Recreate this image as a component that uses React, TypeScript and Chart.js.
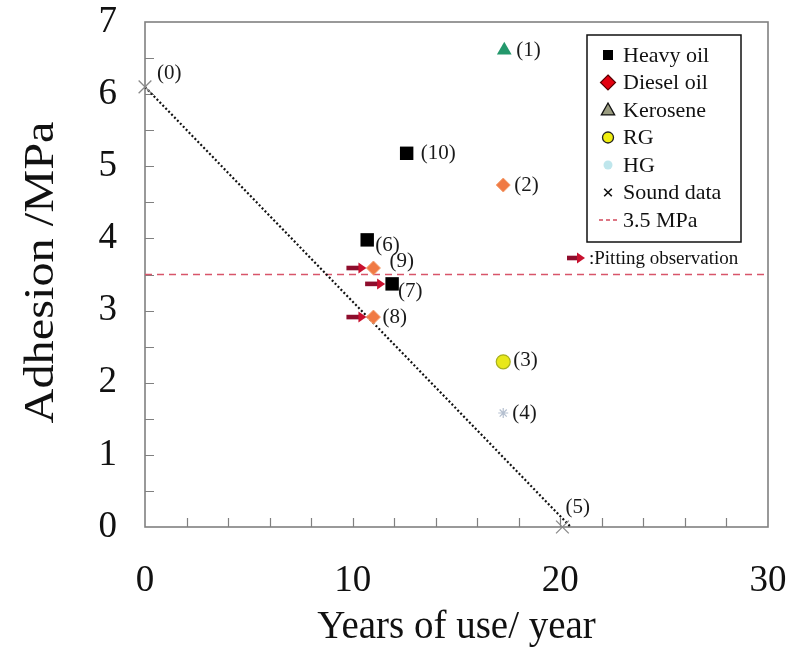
import React, { useEffect, useRef } from 'react';
import { Chart, registerables } from 'chart.js';

Chart.register(...registerables);

const FONT = "'Liberation Serif', 'Times New Roman', Times, serif";

// ---- data (years of use, adhesion MPa, point id) ----
const heavyYears = [10.7, 11.9, 12.6];
const heavyAdhesion = [3.98, 3.37, 5.18];
const heavyIds = [6, 7, 10];

const dieselYears = [17.25, 11.0, 11.0];
const dieselAdhesion = [4.74, 2.91, 3.59];
const dieselIds = [2, 8, 9];

const keroseneYears = [17.3];
const keroseneAdhesion = [6.61];
const keroseneIds = [1];

const rgYears = [17.25];
const rgAdhesion = [2.29];
const rgIds = [3];

const hgYears = [17.25];
const hgAdhesion = [1.58];
const hgIds = [4];

const soundYears = [0, 20.1];
const soundAdhesion = [6.1, 0];
const soundIds = [0, 5];

const trendYears = [0, 20.5];
const trendAdhesion = [6.1, 0];

const thresholdYears = [0, 30];
const thresholdAdhesion = [3.5, 3.5];

const pittingIds = [9, 7, 8];

const xTickLabels = [0, 10, 20, 30];
const yTickLabels = [0, 1, 2, 3, 4, 5, 6, 7];
const xTickMarks = [2, 4, 6, 8, 10, 12, 14, 16, 18, 20, 22, 24, 26, 28];
const yTickMarks = [0.5, 1, 1.5, 2, 2.5, 3, 3.5, 4, 4.5, 5, 5.5, 6, 6.5];

const legendNames = ['Heavy oil', 'Diesel oil', 'Kerosene', 'RG', 'HG', 'Sound data', '3.5 MPa'];
const pittingNote = ':Pitting observation';
const xTitle = 'Years of use/ year';
const yTitle = 'Adhesion /MPa';

// label placement offsets (px) relative to each point: [dx, dy]
const labelOffsets: Record<number, [number, number]> = {
  0: [12, -13], 1: [12, 0], 2: [11, 0], 3: [10, -1], 4: [9, 0], 5: [3, -20],
  6: [8, 6], 7: [6, 8], 8: [9, 0], 9: [16, -7], 10: [14, 0],
};

const pts = (xs: number[], ys: number[]) => xs.map((x, i) => ({ x, y: ys[i] }));

function drawShape(ctx: CanvasRenderingContext2D, shape: string, cx: number, cy: number, r: number,
  fill: string | null, stroke: string | null, lw = 1) {
  ctx.save();
  ctx.beginPath();
  if (shape === 'square') {
    ctx.rect(cx - r, cy - r, 2 * r, 2 * r);
  } else if (shape === 'diamond') {
    ctx.moveTo(cx, cy - r); ctx.lineTo(cx + r, cy); ctx.lineTo(cx, cy + r); ctx.lineTo(cx - r, cy); ctx.closePath();
  } else if (shape === 'triangle') {
    ctx.moveTo(cx, cy - r); ctx.lineTo(cx + r * 0.95, cy + r * 0.7); ctx.lineTo(cx - r * 0.95, cy + r * 0.7); ctx.closePath();
  } else if (shape === 'circle') {
    ctx.arc(cx, cy, r, 0, Math.PI * 2);
  } else if (shape === 'cross') {
    ctx.moveTo(cx - r, cy - r); ctx.lineTo(cx + r, cy + r); ctx.moveTo(cx + r, cy - r); ctx.lineTo(cx - r, cy + r);
  } else if (shape === 'dash') {
    ctx.setLineDash([4, 3]);
    ctx.moveTo(cx - r, cy); ctx.lineTo(cx + r, cy);
  }
  if (fill) { ctx.fillStyle = fill; ctx.fill(); }
  if (stroke) { ctx.strokeStyle = stroke; ctx.lineWidth = lw; ctx.stroke(); }
  ctx.restore();
}

function drawArrow(ctx: CanvasRenderingContext2D, tipX: number, y: number, len: number) {
  ctx.save();
  ctx.fillStyle = '#8e0d2c';
  ctx.fillRect(tipX - len, y - 2.3, len - 7, 4.6);
  ctx.fillStyle = '#c8102e';
  ctx.beginPath();
  ctx.moveTo(tipX, y);
  ctx.lineTo(tipX - 8, y - 5.5);
  ctx.lineTo(tipX - 8, y + 5.5);
  ctx.closePath();
  ctx.fill();
  ctx.restore();
}

const framePlugin = {
  id: 'frame',
  beforeDatasetsDraw(chart: any) {
    const { ctx, chartArea: a, scales } = chart;
    const x = scales.x, y = scales.y;
    ctx.save();
    ctx.strokeStyle = '#808080';
    ctx.lineWidth = 1.6;
    ctx.strokeRect(a.left, a.top, a.right - a.left, a.bottom - a.top);
    ctx.lineWidth = 1.2;
    ctx.beginPath();
    for (const v of xTickMarks) {
      const px = Math.round(x.getPixelForValue(v)) + 0.5;
      ctx.moveTo(px, a.bottom); ctx.lineTo(px, a.bottom - 9);
    }
    for (const v of yTickMarks) {
      const py = Math.round(y.getPixelForValue(v)) + 0.5;
      ctx.moveTo(a.left, py); ctx.lineTo(a.left + 9, py);
    }
    ctx.stroke();
    ctx.restore();
  },
};

const annotationPlugin = {
  id: 'annotations',
  afterDatasetsDraw(chart: any) {
    const { ctx } = chart;
    const pos: Record<number, { x: number; y: number }> = {};
    chart.data.datasets.forEach((ds: any, i: number) => {
      if (!ds.ids) return;
      const meta = chart.getDatasetMeta(i);
      ds.ids.forEach((id: number, j: number) => {
        const el = meta.data[j];
        pos[id] = { x: el.x, y: el.y };
      });
    });
    ctx.save();
    ctx.font = `21px ${FONT}`;
    ctx.fillStyle = '#1a1a1a';
    ctx.textBaseline = 'middle';
    ctx.textAlign = 'left';
    Object.keys(pos).forEach((k) => {
      const id = Number(k);
      const p = pos[id];
      const off = labelOffsets[id] || [10, 0];
      ctx.fillText(`(${id})`, p.x + off[0], p.y + off[1]);
    });
    ctx.restore();
    for (const id of pittingIds) {
      const p = pos[id];
      if (p) drawArrow(ctx, p.x - 7, p.y, 20);
    }
  },
  afterDraw(chart: any) {
    const { ctx, chartArea: a } = chart;
    // y axis title (slightly stretched along its length, as in the source)
    ctx.save();
    ctx.translate(42, (a.top + a.bottom) / 2 - 2);
    ctx.rotate(-Math.PI / 2);
    ctx.scale(1.15, 1);
    ctx.font = `42px ${FONT}`;
    ctx.fillStyle = '#111';
    ctx.textAlign = 'center';
    ctx.textBaseline = 'middle';
    ctx.fillText(yTitle, 0, 0);
    ctx.restore();

    // legend box
    const left = 587, top = 35, right = 741, bottom = 242;
    ctx.save();
    ctx.fillStyle = '#ffffff';
    ctx.fillRect(left, top, right - left, bottom - top);
    ctx.strokeStyle = '#111';
    ctx.lineWidth = 1.5;
    ctx.strokeRect(left, top, right - left, bottom - top);
    const markers: [string, number, string | null, string | null, number][] = [
      ['square', 5, '#000000', null, 1],
      ['diamond', 7.5, '#e3000f', '#5a0000', 1.2],
      ['triangle', 7, '#9a9c80', '#111', 1.3],
      ['circle', 5.5, '#f0ee10', '#222', 1.3],
      ['circle', 4.5, '#bfe6ec', null, 1],
      ['cross', 3.8, null, '#111', 1.6],
      ['dash', 9, null, '#d24a5c', 1.3],
    ];
    ctx.font = `22px ${FONT}`;
    ctx.fillStyle = '#111';
    ctx.textBaseline = 'middle';
    ctx.textAlign = 'left';
    legendNames.forEach((name, i) => {
      const cy = 55 + i * 27.5;
      const m = markers[i];
      drawShape(ctx, m[0], 608, cy, m[1], m[2], m[3], m[4]);
      ctx.fillStyle = '#111';
      ctx.fillText(name, 623, cy + 1);
    });
    // pitting note
    drawArrow(ctx, 585, 258, 18);
    ctx.font = `19px ${FONT}`;
    ctx.fillStyle = '#111';
    ctx.fillText(pittingNote, 589, 259);
    ctx.restore();
  },
};

export default function App() {
  const ref = useRef<HTMLCanvasElement | null>(null);
  useEffect(() => {
    if (!ref.current) return;
    const chart = new Chart(ref.current, {
      type: 'scatter',
      data: {
        datasets: [
          {
            label: legendNames[0], data: pts(heavyYears, heavyAdhesion), ids: heavyIds,
            pointStyle: 'rect', pointRadius: 9.5, backgroundColor: '#000000', borderColor: '#000000', borderWidth: 0,
          } as any,
          {
            label: legendNames[1], data: pts(dieselYears, dieselAdhesion), ids: dieselIds,
            pointStyle: 'rectRot', pointRadius: 7, backgroundColor: '#f07a44', borderColor: '#f4a070', borderWidth: 1,
          } as any,
          {
            label: legendNames[2], data: pts(keroseneYears, keroseneAdhesion), ids: keroseneIds,
            pointStyle: 'triangle', pointRadius: 8.5, backgroundColor: '#24986c', borderColor: '#24986c', borderWidth: 0,
          } as any,
          {
            label: legendNames[3], data: pts(rgYears, rgAdhesion), ids: rgIds,
            pointStyle: 'circle', pointRadius: 7, backgroundColor: '#e8e81a', borderColor: '#a8b020', borderWidth: 1.2,
          } as any,
          {
            label: legendNames[4], data: pts(hgYears, hgAdhesion), ids: hgIds,
            pointStyle: 'star', pointRadius: 5, backgroundColor: '#c4ccd8', borderColor: '#b4bfcf', borderWidth: 1.2,
          } as any,
          {
            label: legendNames[5], data: pts(soundYears, soundAdhesion), ids: soundIds, clip: false,
            pointStyle: 'crossRot', pointRadius: 9, backgroundColor: '#8a8a8a', borderColor: '#8a8a8a', borderWidth: 1.3,
          } as any,
          {
            label: 'trend', data: pts(trendYears, trendAdhesion), showLine: true, clip: false,
            pointRadius: 0, borderColor: '#111111', borderWidth: 2.2, borderDash: [2, 2.2], fill: false,
          } as any,
          {
            label: legendNames[6], data: pts(thresholdYears, thresholdAdhesion), showLine: true,
            pointRadius: 0, borderColor: '#d8556a', borderWidth: 1.3, borderDash: [7, 5], fill: false,
          } as any,
        ],
      },
      options: {
        animation: false,
        responsive: false,
        devicePixelRatio: 1,
        layout: { padding: { top: 22, right: 24, left: 0, bottom: 0 } },
        plugins: { legend: { display: false }, tooltip: { enabled: false } },
        events: [],
        scales: {
          x: {
            type: 'linear', min: 0, max: 30,
            afterFit: (s: any) => { s.height = 128; s.paddingLeft = 0; s.paddingRight = 0; },
            afterBuildTicks: (s: any) => { s.ticks = xTickLabels.map((v) => ({ value: v })); },
            ticks: { font: { family: FONT, size: 37 }, color: '#111', padding: 32, maxRotation: 0 },
            grid: { display: false, drawTicks: false },
            border: { display: false },
            title: { display: true, text: xTitle, font: { family: FONT, size: 39 }, color: '#111', padding: { top: 0, bottom: 4 } },
          },
          y: {
            type: 'linear', min: 0, max: 7,
            afterFit: (s: any) => { s.width = 145; s.paddingTop = 0; s.paddingBottom = 0; },
            afterBuildTicks: (s: any) => { s.ticks = yTickLabels.map((v) => ({ value: v })); },
            ticks: { font: { family: FONT, size: 37 }, color: '#111', padding: 28 },
            grid: { display: false, drawTicks: false },
            border: { display: false },
            title: { display: false },
          },
        },
      } as any,
      plugins: [framePlugin, annotationPlugin],
    });
    return () => chart.destroy();
  }, []);
  return (
    <div style={{ position: 'absolute', left: 0, top: 0, width: 792, height: 655, background: '#fff' }}>
      <canvas ref={ref} width={792} height={655} style={{ display: 'block' }} />
    </div>
  );
}
